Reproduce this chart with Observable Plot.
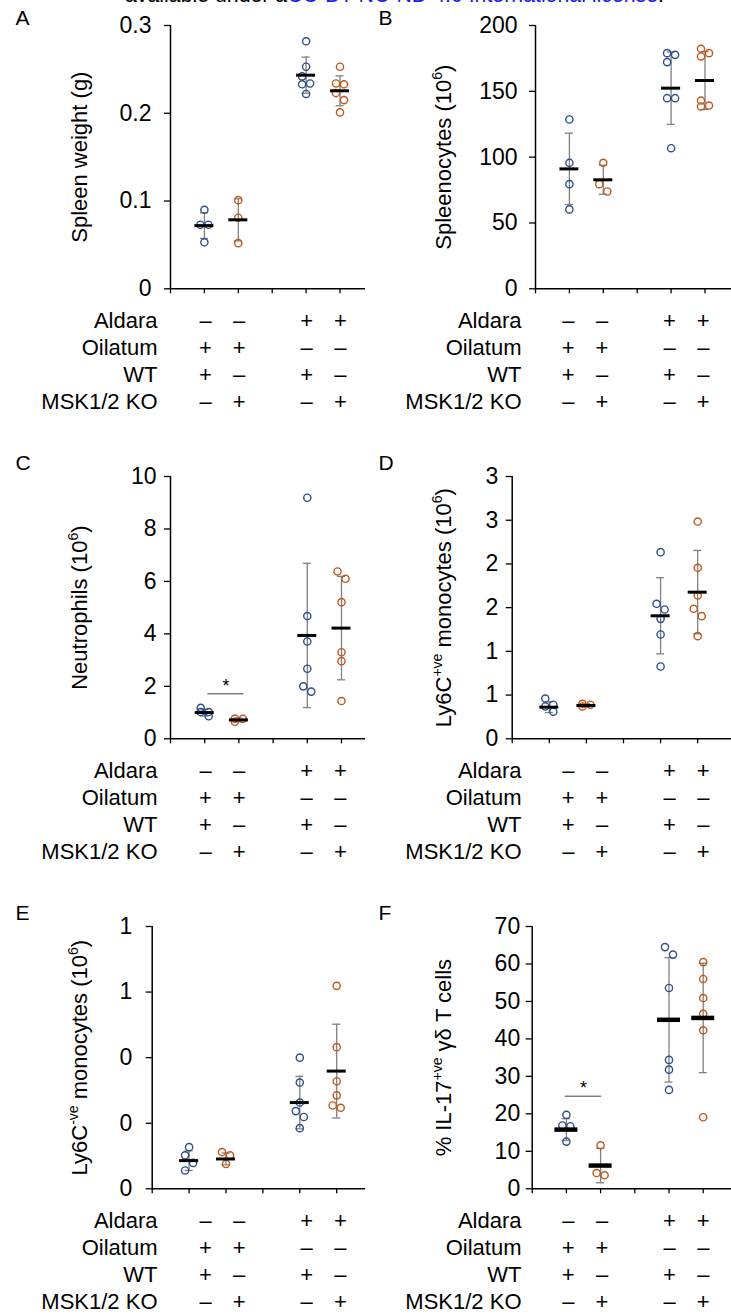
<!DOCTYPE html>
<html><head><meta charset="utf-8">
<script src="https://cdn.jsdelivr.net/npm/d3@7"></script>
<script src="https://cdn.jsdelivr.net/npm/@observablehq/plot@0.6"></script>
<style>
html,body{margin:0;padding:0;background:#fff;overflow:hidden;}
#root{position:relative;width:731px;height:1314px;overflow:hidden;font-family:"Liberation Sans",Arial,sans-serif;}
#root svg{position:absolute;overflow:hidden;max-width:none;}
.lic{position:absolute;left:125px;top:-15px;font-size:21.3px;line-height:21.3px;white-space:nowrap;color:#000;}
.lic span{color:#1a1aee;}
</style></head><body>
<div id="root"><div class="lic">available under a<span>CC-BY-NC-ND 4.0 International license</span>.</div></div>
<script>
// ---------- data ----------
const groupPos = [1, 2, 4, 5];
const genotype = ["WT", "KO", "WT", "KO"];

const spleenWeight = [[0.090,0.073,0.073,0.053],[0.101,0.081,0.052],[0.282,0.253,0.242,0.234,0.233,0.222],[0.253,0.234,0.233,0.223,0.215,0.201]];
const spleenWeightMean = [0.072,0.0786,0.2434,0.2256];
const spleenWeightSD = [0.0146,0.024,0.0206,0.017];
const spleenWeightTicks = [0,0.1,0.2,0.3];
const spleenWeightTickLabels = ["0","0.1","0.2","0.3"];

const splenocytes = [[128.6,95.7,79.5,60.3],[95.7,79.5,73.9],[179,177.7,172.2,144.8,144.8,106.8],[182.3,179,176.5,143,139.2,138.5]];
const splenocytesMean = [91.1,82.8,152.4,158.2];
const splenocytesSD = [27.1,11,27.5,22];
const splenocytesTicks = [0,50,100,150,200];
const splenocytesTickLabels = ["0","50","100","150","200"];

const neutrophils = [[1.18,1.02,1.02,0.86],[0.77,0.76,0.65],[9.19,4.68,3.71,2.67,2.0,1.8],[6.38,6.1,5.21,3.3,2.96,1.44]];
const neutrophilsMean = [1.0,0.72,3.94,4.22];
const neutrophilsSD = [0.13,0.07,2.75,1.97];
const neutrophilsTicks = [0,2,4,6,8,10];
const neutrophilsTickLabels = ["0","2","4","6","8","10"];
const neutrophilsSig = [{from:1.09, to:2.15, y:1.72, star:2.2}];

const ly6cPos = [[0.46,0.39,0.37,0.31],[0.40,0.39,0.37],[2.135,1.544,1.479,1.372,1.193,0.827],[2.485,1.956,1.639,1.487,1.403,1.174]];
const ly6cPosMean = [0.362,0.381,1.407,1.677];
const ly6cPosSD = [0.062,0.02,0.435,0.477];
const ly6cPosTicks = [0,0.5,1,1.5,2,2.5,3];
const ly6cPosTickLabels = ["0","1","1","2","2","3","3"];

const ly6cNeg = [[0.127,0.102,0.079,0.056],[0.112,0.102,0.076],[0.40,0.324,0.263,0.237,0.219,0.185],[0.619,0.432,0.328,0.285,0.254,0.247]];
const ly6cNegMean = [0.086,0.091,0.263,0.359];
const ly6cNegSD = [0.03,0.018,0.08,0.143];
const ly6cNegTicks = [0,0.2,0.4,0.6,0.8];
const ly6cNegTickLabels = ["0","0","0","1","1"];

const il17 = [[19.75,16.9,16.7,12.6],[11.6,4.2,3.6],[64.5,62.5,53.6,34.4,31.8,26.4],[60.5,56,50.9,46.7,42.3,19.1]];
const il17Mean = [15.8,6.2,45.1,45.6];
const il17SD = [2.9,4.6,16.6,14.6];
const il17Ticks = [0,10,20,30,40,50,60,70];
const il17TickLabels = ["0","10","20","30","40","50","60","70"];
const il17Sig = [{from:0.97, to:2.03, y:24.7, star:28.2}];

const tableRows = ["Aldara", "Oilatum", "WT", "MSK1/2 KO"];
const tableSigns = [
  ["–","–","+","+"],
  ["+","+","–","–"],
  ["+","–","+","–"],
  ["–","+","–","+"]
];

// ---------- style ----------
const FONT = '"Liberation Sans", Arial, sans-serif';
const BLUE = "#2e4f8c", ORANGE = "#c0581a", GRAY = "#808080";
const DODGE = 8;
const root = document.getElementById("root");

function place(svg, left, top) {
  svg.style.left = left + "px";
  svg.style.top = top + "px";
  root.appendChild(svg);
}

function superscripts(svg) {
  svg.querySelectorAll("text").forEach(t => {
    const s = t.textContent;
    if (!s.includes("^{")) return;
    t.textContent = "";
    let shifted = false;
    const add = (str, sup) => {
      const ts = document.createElementNS("http://www.w3.org/2000/svg", "tspan");
      ts.textContent = str;
      if (sup) { ts.setAttribute("font-size", "14"); ts.setAttribute("dy", "-9"); shifted = true; }
      else if (shifted) { ts.setAttribute("dy", "9"); shifted = false; }
      t.appendChild(ts);
    };
    const re = /\^\{([^}]*)\}/g; let last = 0, m;
    while ((m = re.exec(s))) {
      if (m.index > last) add(s.slice(last, m.index), false);
      add(m[1], true);
      last = re.lastIndex;
    }
    if (last < s.length) add(s.slice(last), false);
  });
}

function chartPanel(p) {
  const W = p.col === 0 ? 365 : 366, H = 300, yBot = 288.3;
  const yMax = p.ticks[p.ticks.length - 1];
  const ppu = (yBot - p.yTop) / yMax;
  const pts = [];
  p.values.forEach((arr, g) => {
    const sorted = arr.map(v => ({v})).sort((a, b) => b.v - a.v);
    let cluster = [];
    const flush = () => {
      if (cluster.length === 1) cluster[0].off = 0;
      else cluster.forEach((d, i) => d.off = (i % 2 === 0 ? -1 : 1) * DODGE / 2);
      cluster = [];
    };
    sorted.forEach((d, i) => {
      if (i > 0 && (sorted[i - 1].v - d.v) * ppu >= DODGE) flush();
      cluster.push(d);
    });
    flush();
    sorted.forEach(d => pts.push({x: groupPos[g] + d.off / p.step, y: d.v, geno: genotype[g]}));
  });
  const stats = p.mean.map((m, g) => ({x: groupPos[g], m, sd: p.sd[g]}));
  const cap = 4 / p.step, half = p.meanHalf / p.step;
  const marks = [
    Plot.ruleX([0], {y1: () => 0, y2: () => yMax, stroke: "black", strokeWidth: 1.5}),
    Plot.ruleY([0], {x1: () => 0, x2: () => 6, stroke: "black", strokeWidth: 1.5}),
    Plot.axisY(p.ticks, {tickFormat: d => p.tickLabels[p.ticks.indexOf(d)], tickSize: 6, tickPadding: p.pad, fontSize: 23, label: null, strokeWidth: 1.3}),
    Plot.axisX(d3.range(7), {tickSize: 5, tickFormat: () => "", label: null, strokeWidth: 1.3}),
    Plot.ruleX(stats, {x: "x", y1: d => d.m - d.sd, y2: d => d.m + d.sd, stroke: GRAY, strokeWidth: 1.3}),
    Plot.ruleY(stats, {y: d => d.m + d.sd, x1: d => d.x - cap, x2: d => d.x + cap, stroke: GRAY, strokeWidth: 1.3}),
    Plot.ruleY(stats, {y: d => d.m - d.sd, x1: d => d.x - cap, x2: d => d.x + cap, stroke: GRAY, strokeWidth: 1.3}),
    Plot.dot(pts, {x: "x", y: "y", r: 3.6, stroke: "geno", fill: "none", strokeWidth: 1.4}),
    Plot.ruleY(stats, {y: "m", x1: d => d.x - half, x2: d => d.x + half, stroke: "black", strokeWidth: p.meanH}),
    Plot.text([p.letter], {frameAnchor: "top-left", dx: (p.col === 0 ? 15 : 13) - p.origin, dy: p.letterTop - p.yTop, lineAnchor: "top", textAnchor: "start", fontSize: 21}),
    Plot.text([p.title], {frameAnchor: "left", dx: (p.col === 0 ? 79 : 78) - p.origin, rotate: -90, fontSize: 22, textAnchor: "middle"})
  ];
  if (p.sig) {
    marks.push(Plot.ruleY(p.sig, {y: "y", x1: "from", x2: "to", stroke: GRAY, strokeWidth: 1.6}));
    marks.push(Plot.text(p.sig, {x: d => (d.from + d.to) / 2, y: "star", text: () => "*", fontSize: 18, dy: 5}));
  }
  const svg = Plot.plot({
    width: W, height: H,
    marginLeft: p.origin, marginRight: 0, marginTop: p.yTop, marginBottom: H - yBot,
    x: {domain: [0, 6], range: [p.origin, p.origin + 6 * p.step]},
    y: {domain: [0, yMax], range: [yBot, p.yTop]},
    color: {domain: ["WT", "KO"], range: [BLUE, ORANGE]},
    style: {fontFamily: FONT, fontSize: "22px", background: "transparent", color: "black"},
    marks
  });
  superscripts(svg);
  place(svg, p.col === 0 ? 0 : 365, p.top);
}

function tablePanel(col, top) {
  const W = col === 0 ? 365 : 366;
  const tO = col === 0 ? 171.3 : 169, tS = col === 0 ? 33.7 : 33.75;
  const cells = [];
  tableRows.forEach((r, ri) => tableSigns[ri].forEach((s, gi) => cells.push({row: r, x: groupPos[gi], s})));
  const svg = Plot.plot({
    width: W, height: 114,
    marginLeft: col === 0 ? 157 : 156, marginRight: 0, marginTop: 0, marginBottom: 0,
    x: {domain: [0, 6], range: [tO, tO + 6 * tS], axis: null},
    y: {type: "point", domain: tableRows, range: [19.5, 100.5], padding: 0},
    style: {fontFamily: FONT, fontSize: "22px", background: "transparent", color: "black"},
    marks: [
      Plot.axisY({tickSize: 0, tickPadding: 0, label: null, fontSize: 22}),
      Plot.text(cells, {x: "x", y: "row", text: "s", fontSize: 22})
    ]
  });
  place(svg, col === 0 ? 0 : 365, top);
}

const common = {meanHalf: 9.5, meanH: 3};
chartPanel({...common, col: 0, top: 0, letter: "A", letterTop: 9.5, origin: 170, step: 33.9, yTop: 25, pad: 13,
  values: spleenWeight, mean: spleenWeightMean, sd: spleenWeightSD, ticks: spleenWeightTicks, tickLabels: spleenWeightTickLabels,
  title: "Spleen weight (g)"});
chartPanel({...common, col: 1, top: 0, letter: "B", letterTop: 9.5, origin: 170, step: 33.9, yTop: 25, pad: 12,
  values: splenocytes, mean: splenocytesMean, sd: splenocytesSD, ticks: splenocytesTicks, tickLabels: splenocytesTickLabels,
  title: "Spleenocytes (10^{6})"});
chartPanel({...common, col: 0, top: 450, letter: "C", letterTop: 5, origin: 170, step: 34.2, yTop: 26, pad: 8,
  values: neutrophils, mean: neutrophilsMean, sd: neutrophilsSD, ticks: neutrophilsTicks, tickLabels: neutrophilsTickLabels,
  title: "Neutrophils (10^{6})", sig: neutrophilsSig});
chartPanel({...common, col: 1, top: 450, letter: "D", letterTop: 5, origin: 146.7, step: 37.1, yTop: 26, pad: 8,
  values: ly6cPos, mean: ly6cPosMean, sd: ly6cPosSD, ticks: ly6cPosTicks, tickLabels: ly6cPosTickLabels,
  title: "Ly6C^{+ve} monocytes (10^{6})"});
chartPanel({...common, col: 0, top: 900, letter: "E", letterTop: 5, origin: 151.7, step: 36.9, yTop: 26, pad: 14,
  values: ly6cNeg, mean: ly6cNegMean, sd: ly6cNegSD, ticks: ly6cNegTicks, tickLabels: ly6cNegTickLabels,
  title: "Ly6C^{-ve} monocytes (10^{6})"});
chartPanel({col: 1, top: 900, letter: "F", letterTop: 5, origin: 166.7, step: 34.2, yTop: 26, pad: 6, meanHalf: 11.5, meanH: 4.5,
  values: il17, mean: il17Mean, sd: il17SD, ticks: il17Ticks, tickLabels: il17TickLabels,
  title: "% IL-17^{+ve} γδ T cells", sig: il17Sig});

tablePanel(0, 300); tablePanel(1, 300);
tablePanel(0, 750); tablePanel(1, 750);
tablePanel(0, 1200); tablePanel(1, 1200);
</script></body></html>
